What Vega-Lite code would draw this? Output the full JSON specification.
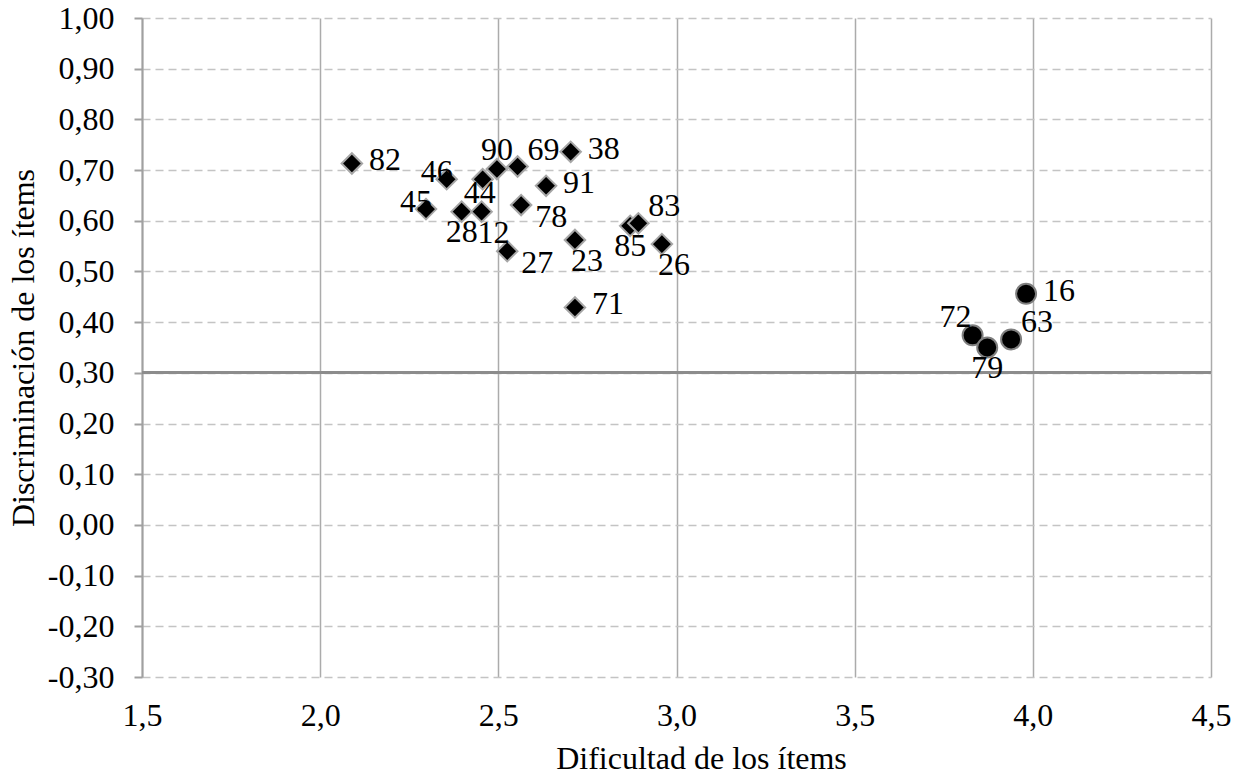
{
  "$schema": "https://vega.github.io/schema/vega-lite/v6.json",
  "width": 1069,
  "height": 659,
  "autosize": {"type": "none"},
  "padding": {"left": 142, "top": 18, "right": 31, "bottom": 99},
  "background": "white",
  "data": {
    "values": [
      {"id": "82", "dif": 2.089, "disc": 0.713, "tipo": "rombo", "pos": "r"},
      {"id": "46", "dif": 2.355, "disc": 0.682, "tipo": "rombo", "pos": "l"},
      {"id": "45", "dif": 2.297, "disc": 0.623, "tipo": "rombo", "pos": "l"},
      {"id": "28", "dif": 2.397, "disc": 0.618, "tipo": "rombo", "pos": "b"},
      {"id": "12", "dif": 2.453, "disc": 0.618, "tipo": "rombo", "pos": "br"},
      {"id": "44", "dif": 2.456, "disc": 0.682, "tipo": "rombo", "pos": "bn"},
      {"id": "90", "dif": 2.496, "disc": 0.702, "tipo": "rombo", "pos": "t"},
      {"id": "69", "dif": 2.554, "disc": 0.707, "tipo": "rombo", "pos": "tr"},
      {"id": "38", "dif": 2.703, "disc": 0.736, "tipo": "rombo", "pos": "r"},
      {"id": "91", "dif": 2.634, "disc": 0.669, "tipo": "rombo", "pos": "r"},
      {"id": "78", "dif": 2.564, "disc": 0.631, "tipo": "rombo", "pos": "brr"},
      {"id": "27", "dif": 2.525, "disc": 0.540, "tipo": "rombo", "pos": "brr"},
      {"id": "23", "dif": 2.715, "disc": 0.562, "tipo": "rombo", "pos": "br"},
      {"id": "85", "dif": 2.870, "disc": 0.590, "tipo": "rombo", "pos": "b"},
      {"id": "83", "dif": 2.893, "disc": 0.595, "tipo": "rombo", "pos": "tr"},
      {"id": "26", "dif": 2.959, "disc": 0.554, "tipo": "rombo", "pos": "br"},
      {"id": "71", "dif": 2.715, "disc": 0.429, "tipo": "rombo", "pos": "r"},
      {"id": "16", "dif": 3.981, "disc": 0.456, "tipo": "circulo", "pos": "r"},
      {"id": "63", "dif": 3.939, "disc": 0.366, "tipo": "circulo", "pos": "tr"},
      {"id": "72", "dif": 3.831, "disc": 0.374, "tipo": "circulo", "pos": "tl"},
      {"id": "79", "dif": 3.872, "disc": 0.350, "tipo": "circulo", "pos": "b"}
    ]
  },
  "layer": [
    {
      "mark": {"type": "rule", "color": "#8c8c8c", "strokeWidth": 2},
      "encoding": {
        "y": {
          "datum": 0.3,
          "type": "quantitative",
          "scale": {"domain": [-0.3, 1.0], "nice": false, "zero": false},
          "axis": {
            "title": "Discriminación de los ítems",
            "titlePadding": 7,
            "values": [-0.3, -0.2, -0.1, 0.0, 0.1, 0.2, 0.3, 0.4, 0.5, 0.6, 0.7, 0.8, 0.9, 1.0],
            "labelExpr": "replace(replace(format(datum.value, '.2f'), '.', ','), '\u2212', '-')",
            "domain": true,
            "domainColor": "#a0a0a0",
            "domainWidth": 2,
            "ticks": true,
            "tickSize": 8,
            "tickColor": "#a0a0a0",
            "tickWidth": 2,
            "labelPadding": 20,
            "grid": true,
            "gridColor": "#c4c4c4",
            "gridWidth": 1.5,
            "gridDash": [8, 5]
          }
        }
      }
    },
    {
      "encoding": {
        "x": {
          "field": "dif",
          "type": "quantitative",
          "scale": {"domain": [1.5, 4.5], "nice": false, "zero": false},
          "axis": {
            "title": "Dificultad de los ítems",
            "titleX": 559,
            "titlePadding": 12,
            "values": [1.5, 2.0, 2.5, 3.0, 3.5, 4.0, 4.5],
            "labelExpr": "replace(format(datum.value, '.1f'), '.', ',')",
            "domain": false,
            "ticks": false,
            "tickSize": 0,
            "labelPadding": 23,
            "grid": true,
            "gridColor": "#ababab",
            "gridWidth": 1.5
          }
        },
        "y": {
          "field": "disc",
          "type": "quantitative",
          "scale": {"domain": [-0.3, 1.0], "nice": false, "zero": false},
          "axis": {
            "title": "Discriminación de los ítems",
            "titlePadding": 7,
            "values": [-0.3, -0.2, -0.1, 0.0, 0.1, 0.2, 0.3, 0.4, 0.5, 0.6, 0.7, 0.8, 0.9, 1.0],
            "labelExpr": "replace(replace(format(datum.value, '.2f'), '.', ','), '\u2212', '-')",
            "domain": true,
            "domainColor": "#a0a0a0",
            "domainWidth": 2,
            "ticks": true,
            "tickSize": 8,
            "tickColor": "#a0a0a0",
            "tickWidth": 2,
            "labelPadding": 20,
            "grid": true,
            "gridColor": "#c4c4c4",
            "gridWidth": 1.5,
            "gridDash": [8, 5]
          }
        }
      },
      "layer": [
        {
          "transform": [{"filter": "datum.tipo === 'rombo'"}],
          "mark": {"type": "point", "shape": "diamond", "filled": true, "size": 420, "fill": "black", "stroke": "#a6a6a6", "strokeWidth": 2, "opacity": 1}
        },
        {
          "transform": [{"filter": "datum.tipo === 'circulo'"}],
          "mark": {"type": "point", "shape": "circle", "filled": true, "size": 400, "fill": "black", "stroke": "#7f7f7f", "strokeWidth": 2, "opacity": 1}
        },
        {
          "encoding": {"text": {"field": "id", "type": "nominal"}},
          "layer": [
            {"transform": [{"filter": "datum.pos === 'r'"}], "mark": {"type": "text", "align": "left", "baseline": "middle", "dx": 17, "dy": -3}},
            {"transform": [{"filter": "datum.pos === 't'"}], "mark": {"type": "text", "align": "center", "baseline": "middle", "dx": 0, "dy": -19}},
            {"transform": [{"filter": "datum.pos === 'tr'"}], "mark": {"type": "text", "align": "center", "baseline": "middle", "dx": 26, "dy": -17}},
            {"transform": [{"filter": "datum.pos === 'tl'"}], "mark": {"type": "text", "align": "center", "baseline": "middle", "dx": -17, "dy": -18}},
            {"transform": [{"filter": "datum.pos === 'l'"}], "mark": {"type": "text", "align": "center", "baseline": "middle", "dx": -10, "dy": -7}},
            {"transform": [{"filter": "datum.pos === 'b'"}], "mark": {"type": "text", "align": "center", "baseline": "middle", "dx": 0, "dy": 20}},
            {"transform": [{"filter": "datum.pos === 'bn'"}], "mark": {"type": "text", "align": "center", "baseline": "middle", "dx": -3, "dy": 14}},
            {"transform": [{"filter": "datum.pos === 'br'"}], "mark": {"type": "text", "align": "center", "baseline": "middle", "dx": 12, "dy": 21}},
            {"transform": [{"filter": "datum.pos === 'brr'"}], "mark": {"type": "text", "align": "center", "baseline": "middle", "dx": 30, "dy": 12}}
          ]
        }
      ]
    }
  ],
  "config": {
    "view": {"stroke": null},
    "text": {"font": "Liberation Serif", "fontSize": 32, "color": "black"},
    "axis": {
      "labelFont": "Liberation Serif",
      "labelFontSize": 32,
      "labelColor": "black",
      "titleFont": "Liberation Serif",
      "titleFontSize": 32,
      "titleFontWeight": "normal",
      "titleColor": "black",
      "labelFlush": false,
      "labelOverlap": false
    }
  }
}
